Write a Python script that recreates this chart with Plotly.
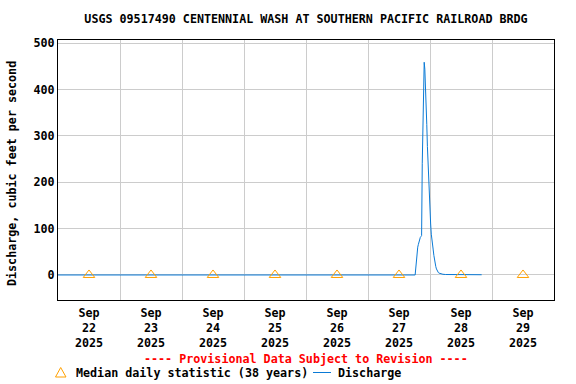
import plotly.graph_objects as go

TITLE = "USGS 09517490 CENTENNIAL WASH AT SOUTHERN PACIFIC RAILROAD BRDG"
Y_TITLE = "Discharge, cubic feet per second"

# Discharge series (time, cfs)
q_times = [
    "2025-09-22 00:00", "2025-09-27 18:15", "2025-09-27 18:30", "2025-09-27 18:45",
    "2025-09-27 19:00", "2025-09-27 19:15", "2025-09-27 19:30", "2025-09-27 19:45",
    "2025-09-27 20:00", "2025-09-27 20:15", "2025-09-27 20:30", "2025-09-27 20:45",
    "2025-09-27 21:00", "2025-09-27 21:15", "2025-09-27 21:30", "2025-09-27 21:45",
    "2025-09-27 22:00", "2025-09-27 22:15", "2025-09-27 22:30", "2025-09-27 22:45",
    "2025-09-27 23:00", "2025-09-27 23:15", "2025-09-27 23:30", "2025-09-27 23:45",
    "2025-09-28 00:00", "2025-09-28 00:15", "2025-09-28 00:30", "2025-09-28 00:45",
    "2025-09-28 01:00", "2025-09-28 01:15", "2025-09-28 01:30", "2025-09-28 01:45",
    "2025-09-28 02:00", "2025-09-28 02:15", "2025-09-28 02:30", "2025-09-28 02:45",
    "2025-09-28 03:00", "2025-09-28 03:15", "2025-09-28 03:30", "2025-09-28 04:00",
    "2025-09-28 04:30", "2025-09-28 05:00", "2025-09-28 06:00", "2025-09-28 20:00",
]
q_values = [
    0, 0, 15, 38,
    52, 60, 66, 74,
    78, 81, 83, 85,
    241, 325, 401, 459,
    444, 412, 360, 325,
    277, 240, 193, 157,
    130, 110, 88, 70,
    60, 54, 42, 31,
    25, 18, 13, 9,
    7, 5, 4, 3,
    2, 1.5, 1, 0.5,
]

# Median daily statistic (38 years), plotted at noon of each day
med_times = ["2025-09-22 12:00", "2025-09-23 12:00", "2025-09-24 12:00", "2025-09-25 12:00",
             "2025-09-26 12:00", "2025-09-27 12:00", "2025-09-28 12:00", "2025-09-29 12:00"]
med_values = [0, 0, 0, 0, 0, 0, 0, 0]

X_RANGE = ["2025-09-22 00:00", "2025-09-30 00:00"]
Y_RANGE = [-54, 507]
Y_TICKS = [0, 100, 200, 300, 400, 500]

FONT = "DejaVu Sans Mono"
FS = 11.7
BLUE = "#0a7ad6"
ORANGE = "#ffa000"

fig = go.Figure()
fig.add_trace(go.Scatter(x=q_times, y=q_values, mode="lines",
                         line=dict(color=BLUE, width=1), showlegend=False))
fig.add_trace(go.Scatter(x=med_times, y=med_values, mode="markers",
                         marker=dict(symbol="triangle-up-open", size=10, color=ORANGE,
                                     line=dict(width=1, color=ORANGE)),
                         showlegend=False))

L, R, T, B = 58, 554, 40, 300
W, H = R - L, B - T
def px(x):
    return (x - L) / W
def py(y):
    return (B - y) / H

tf = dict(family=FONT, size=FS, color="black", weight="bold")

fig.update_layout(
    width=576, height=384,
    margin=dict(l=L, r=576 - R, t=T, b=384 - B, autoexpand=False),
    paper_bgcolor="white", plot_bgcolor="white",
    font=tf,
    title=dict(text=TITLE, x=306 / 576, xanchor="center", xref="container",
               y=1 - 19 / 384, yanchor="middle", yref="container", font=tf),
    xaxis=dict(type="date", range=X_RANGE, dtick=86400000, tick0="2025-09-22",
               ticklabelmode="period", tickformat="%b<br>%d<br>%Y",
               showgrid=True, gridcolor="#cccccc", gridwidth=1,
               showline=True, linecolor="black", linewidth=1, mirror=True,
               ticks="", zeroline=False, automargin=False, tickfont=tf,
               ticklabelstandoff=2),
    yaxis=dict(range=Y_RANGE, tickvals=Y_TICKS,
               showgrid=True, gridcolor="#cccccc", gridwidth=1,
               showline=True, linecolor="black", linewidth=1, mirror=True,
               ticks="", zeroline=False, automargin=False, tickfont=tf),
)

# Y-axis title
fig.add_annotation(text=Y_TITLE, xref="paper", yref="paper", x=px(12), y=py(174),
                   xanchor="center", yanchor="middle", textangle=-90, showarrow=False,
                   font=tf)

# Provisional note
fig.add_annotation(text="---- Provisional Data Subject to Revision ----",
                   xref="paper", yref="paper", x=px(305.5), y=py(359),
                   xanchor="center", yanchor="middle", showarrow=False,
                   font=dict(family=FONT, size=FS, color="red", weight="bold"))

# Legend (manual)
fig.add_shape(type="path", xref="paper", yref="paper",
              path=f"M {px(55.5)} {py(377)} L {px(66)} {py(377)} L {px(60.7)} {py(367.5)} Z",
              line=dict(color=ORANGE, width=1), fillcolor="rgba(0,0,0,0)")
fig.add_annotation(text="Median daily statistic (38 years)", xref="paper", yref="paper",
                   x=px(74), y=py(373), xanchor="left", yanchor="middle", showarrow=False,
                   font=tf)
fig.add_shape(type="line", xref="paper", yref="paper",
              x0=px(313), x1=px(331), y0=py(372.5), y1=py(372.5),
              line=dict(color=BLUE, width=1))
fig.add_annotation(text="Discharge", xref="paper", yref="paper",
                   x=px(336), y=py(373), xanchor="left", yanchor="middle", showarrow=False,
                   font=tf)

fig.write_html("out.html", config={"displayModeBar": False},
               post_script="document.body.style.margin='0';document.body.style.overflow='hidden';")
